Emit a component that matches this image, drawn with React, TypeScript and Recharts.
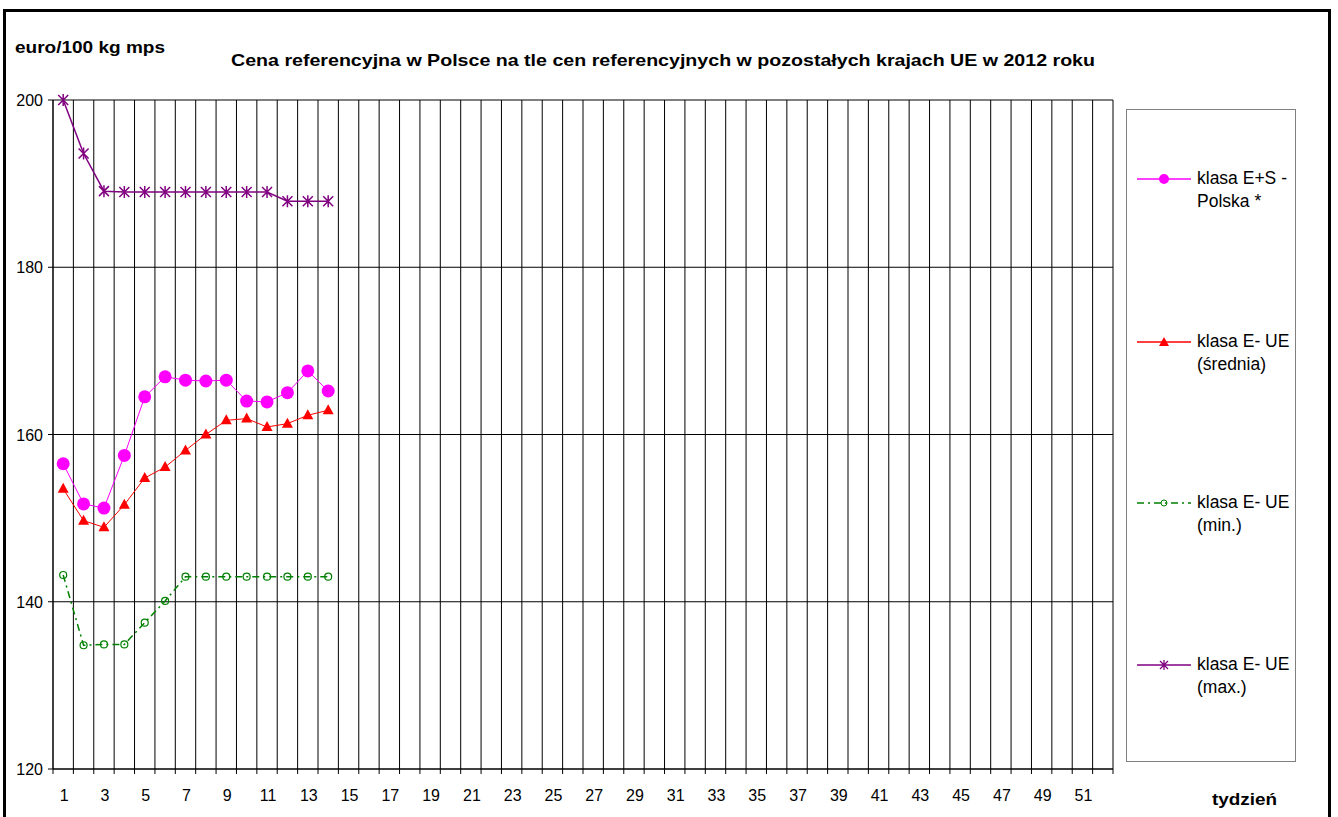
import { LineChart, Line, XAxis, YAxis, CartesianGrid } from "recharts"

// weeks of the year (categories)
const weeks = Array.from({ length: 52 }, (_, i) => i + 1)

// euro/100 kg mps, weeks 1-14 of 2012
const polska = [156.5, 151.7, 151.2, 157.5, 164.5, 166.9, 166.5, 166.4, 166.5, 164.0, 163.9, 165.0, 167.6, 165.2]
const ueSrednia = [153.5, 149.7, 148.9, 151.6, 154.8, 156.1, 158.1, 160.0, 161.7, 161.9, 160.9, 161.3, 162.3, 162.9]
const ueMin = [143.2, 134.8, 134.9, 134.9, 137.5, 140.1, 143.0, 143.0, 143.0, 143.0, 143.0, 143.0, 143.0, 143.0]
const ueMax = [200.0, 193.6, 189.1, 189.0, 189.0, 189.0, 189.0, 189.0, 189.0, 189.0, 189.0, 187.9, 187.9, 187.9]

const yTicks = [120, 140, 160, 180, 200]
const weekLabels = weeks.filter(w => w % 2 === 1)

const FONT = "'Liberation Sans', Arial, sans-serif"
const PLOT_W = 1060
const BAND = PLOT_W / weeks.length

const chartData = weeks.map((w, i) => ({
  week: w,
  polska: polska[i],
  sred: ueSrednia[i],
  min: ueMin[i],
  max: ueMax[i],
}))

// grid/tick positions sit on the week boundaries
const boundaries = [0.5, ...weeks.map(w => w + 0.5)]

const WeekTick = (props: any) => {
  const { x, y, payload } = props
  const wk = payload.value + 0.5
  if (!weekLabels.includes(wk)) return <g />
  return (
    <text x={x + BAND / 2 + 1} y={y + 25} textAnchor="middle" fontSize={16} fontFamily={FONT} fill="#000">
      {wk}
    </text>
  )
}

const YTick = (props: any) => {
  const { x, y, payload } = props
  return (
    <text x={x} y={y + 6} textAnchor="end" fontSize={16} fontFamily={FONT} fill="#000">
      {payload.value}
    </text>
  )
}

const CircleDot = (props: any) => {
  const { cx, cy } = props
  if (cx == null || cy == null) return <g key={props.index} />
  return <circle key={props.index} cx={cx} cy={cy} r={6.5} fill="#FF00FF" />
}

const TriangleDot = (props: any) => {
  const { cx, cy } = props
  if (cx == null || cy == null) return <g key={props.index} />
  return <path key={props.index} d={`M${cx},${cy - 6}L${cx + 5.5},${cy + 4}L${cx - 5.5},${cy + 4}Z`} fill="#FF0000" />
}

const OpenDot = (props: any) => {
  const { cx, cy } = props
  if (cx == null || cy == null) return <g key={props.index} />
  return <circle key={props.index} cx={cx} cy={cy} r={3.5} fill="none" stroke="#008000" strokeWidth={1.2} />
}

const StarDot = (props: any) => {
  const { cx, cy } = props
  if (cx == null || cy == null) return <g key={props.index} />
  return (
    <path
      key={props.index}
      d={`M${cx - 5},${cy - 5}L${cx + 5},${cy + 5}M${cx - 5},${cy + 5}L${cx + 5},${cy - 5}M${cx},${cy - 6}L${cx},${cy + 6}`}
      stroke="#800080"
      strokeWidth={1.5}
    />
  )
}

const legendItems = [
  { lines: ["klasa E+S -", "Polska *"], color: "#FF00FF", dash: undefined, marker: "circle", top: 179 },
  { lines: ["klasa E- UE", "(średnia)"], color: "#FF0000", dash: undefined, marker: "triangle", top: 342 },
  { lines: ["klasa E- UE", "(min.)"], color: "#008000", dash: "7 4 2 4", marker: "open", top: 503 },
  { lines: ["klasa E- UE", "(max.)"], color: "#800080", dash: undefined, marker: "star", top: 665 },
]

function LegendMarker({ marker, color }: { marker: string; color: string }) {
  const cx = 27, cy = 6
  if (marker === "circle") return <circle cx={cx} cy={cy} r={5} fill={color} />
  if (marker === "triangle") return <path d={`M${cx},${cy - 5}L${cx + 5},${cy + 4}L${cx - 5},${cy + 4}Z`} fill={color} />
  if (marker === "open") return <circle cx={cx} cy={cy} r={3} fill="none" stroke={color} />
  return (
    <path
      d={`M${cx - 4},${cy - 4}L${cx + 4},${cy + 4}M${cx - 4},${cy + 4}L${cx + 4},${cy - 4}M${cx},${cy - 5}L${cx},${cy + 5}`}
      stroke={color}
      strokeWidth={1.3}
    />
  )
}

export default function App() {
  return (
    <div style={{ position: "absolute", left: 0, top: 0, width: 1338, height: 817, background: "#fff", fontFamily: FONT }}>
      {/* outer frame */}
      <div style={{ position: "absolute", left: 3, top: 9, width: 1322, height: 820, borderLeft: "3px solid #000", borderTop: "3px solid #000", borderRight: "2px solid #000" }} />
      <div style={{ position: "absolute", left: 1329, top: 9, width: 2, height: 820, background: "#000" }} />

      <LineChart
        width={1338}
        height={817}
        data={chartData}
        margin={{ top: 100, right: 225, left: 3, bottom: 8 }}
        style={{ position: "absolute", left: 0, top: 0 }}
      >
        <CartesianGrid stroke="#000" strokeWidth={1} />
        <XAxis
          dataKey="week"
          type="number"
          domain={[0.5, 52.5]}
          ticks={boundaries}
          interval={0}
          height={40}
          tickSize={5}
          tick={<WeekTick />}
          axisLine={{ stroke: "#000" }}
          tickLine={{ stroke: "#000" }}
        />
        <YAxis
          domain={[120, 200]}
          ticks={yTicks}
          width={50}
          tickSize={5}
          tickMargin={5}
          axisLine={{ stroke: "#000" }}
          tickLine={{ stroke: "#000" }}
          tick={<YTick />}
        />
        <Line dataKey="max" stroke="#800080" strokeWidth={1.5} dot={StarDot} isAnimationActive={false} />
        <Line dataKey="min" stroke="#008000" strokeWidth={1.5} strokeDasharray="7 4 2 4" dot={OpenDot} isAnimationActive={false} />
        <Line dataKey="sred" stroke="#FF0000" strokeWidth={1} dot={TriangleDot} isAnimationActive={false} />
        <Line dataKey="polska" stroke="#FF00FF" strokeWidth={1} dot={CircleDot} isAnimationActive={false} />
      </LineChart>

      {/* titles */}
      <svg width={1338} height={817} style={{ position: "absolute", left: 0, top: 0, pointerEvents: "none" }}>
        <text x={15} y={53} fontSize={16} fontWeight="bold" fontFamily={FONT} textLength={150} lengthAdjust="spacingAndGlyphs">
          euro/100 kg mps
        </text>
        <text x={231} y={66} fontSize={17} fontWeight="bold" fontFamily={FONT} textLength={864} lengthAdjust="spacingAndGlyphs">
          Cena referencyjna w Polsce na tle cen referencyjnych w pozostałych krajach UE w  2012 roku
        </text>
        <text x={1212} y={805} fontSize={17} fontWeight="bold" fontFamily={FONT} textLength={65} lengthAdjust="spacingAndGlyphs">
          tydzień
        </text>
      </svg>

      {/* legend */}
      <div style={{ position: "absolute", left: 1126, top: 109, width: 168, height: 651, border: "1px solid #808080" }} />
      {legendItems.map(item => (
        <div key={item.top} style={{ position: "absolute", left: 1137, top: item.top - 12 }}>
          <svg width={56} height={12} style={{ position: "absolute", left: 0, top: 6 }}>
            <line x1={0} y1={6} x2={54} y2={6} stroke={item.color} strokeWidth={1.3} strokeDasharray={item.dash} />
            <LegendMarker marker={item.marker} color={item.color} />
          </svg>
          <div style={{ position: "absolute", left: 60, top: 0, fontSize: 17.5, lineHeight: "23px", whiteSpace: "nowrap", color: "#000" }}>
            {item.lines[0]}
            <br />
            {item.lines[1]}
          </div>
        </div>
      ))}
    </div>
  )
}
